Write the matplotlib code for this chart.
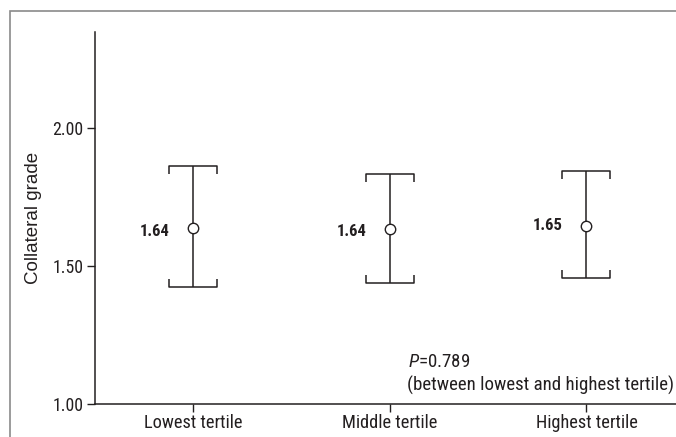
import matplotlib
matplotlib.use("Agg")
import matplotlib.pyplot as plt
from matplotlib.path import Path
from matplotlib.patches import Rectangle
import numpy as np

categories = ["Lowest tertile", "Middle tertile", "Highest tertile"]
means = [1.639, 1.634, 1.646]
upper = [1.863, 1.834, 1.845]
lower = [1.423, 1.437, 1.455]
mean_labels = ["1.64", "1.64", "1.65"]
yticks = [1.00, 1.50, 2.00]
ytick_labels = ["1.00", "1.50", "2.00"]

FONT = 'Roboto Condensed'
plt.rcParams['font.family'] = [FONT, 'DejaVu Sans']
plt.rcParams['mathtext.fontset'] = 'custom'
plt.rcParams['mathtext.it'] = FONT + ':italic'
plt.rcParams['mathtext.rm'] = FONT
col = "#231f20"

W, H = 676, 437
fig = plt.figure(figsize=(W/100, H/100), dpi=100)
# outer frame
fig.patches.append(Rectangle((9.5/W, -0.01), 1.2, 1 - 11/H + 0.01, transform=fig.transFigure,
                             fill=False, edgecolor="#8a8a8a", linewidth=1.2))

ax = fig.add_axes([95/W, 1 - 404/H, (676 - 95)/W + 0.01, (404 - 32)/H])
x = np.arange(len(categories))
ax.set_xlim(-0.5, 2.49)
ax.set_ylim(1.0, 2.348)

# error bars
ax.vlines(x, lower, upper, color=col, lw=1.1)
s = 0.32
top_cap = Path([(-1, -s), (-1, 0), (1, 0), (1, -s)],
               [Path.MOVETO, Path.LINETO, Path.LINETO, Path.LINETO])
bot_cap = Path([(-1, s), (-1, 0), (1, 0), (1, s)],
               [Path.MOVETO, Path.LINETO, Path.LINETO, Path.LINETO])
ax.plot(x, upper, ls="none", marker=top_cap, markersize=35, mfc="none", mec=col, mew=1.1)
ax.plot(x, lower, ls="none", marker=bot_cap, markersize=35, mfc="none", mec=col, mew=1.1)
ax.plot(x, means, ls="none", marker="o", markersize=7.5, mfc="white", mec=col, mew=1.0, zorder=3)

offsets = [(-17, -3), (-17, -2), (-17, 0)]
for xi, m, lab, off in zip(x, means, mean_labels, offsets):
    ax.annotate(lab, (xi, m), xytext=off, textcoords="offset points",
                ha="right", va="center", fontsize=12, fontweight="bold", color=col)

ax.text(1.09, 1.154, "$\\it{P}$=0.789", fontsize=13.6, color=col, ha="left", va="center")
ax.text(1.087, 1.068, "(between lowest and highest tertile)", fontsize=13.6, color=col,
        ha="left", va="center")

ax.set_xticks(x)
ax.set_xticklabels(categories, fontsize=13.2, color=col)
ax.set_yticks(yticks)
ax.set_yticklabels(ytick_labels, fontsize=12.8, color=col)
ax.tick_params(axis="both", direction="out", length=5.5, width=1, color=col, pad=3)
ax.tick_params(axis="x", pad=1.5)
ax.set_ylabel("Collateral grade", fontsize=13.5, color=col, labelpad=7,
              family=['Liberation Sans', 'DejaVu Sans'])
for sp in ["top", "right"]:
    ax.spines[sp].set_visible(False)
for sp in ["left", "bottom"]:
    ax.spines[sp].set_color(col)
    ax.spines[sp].set_linewidth(1.1)

fig.savefig("out.png", dpi=100)
